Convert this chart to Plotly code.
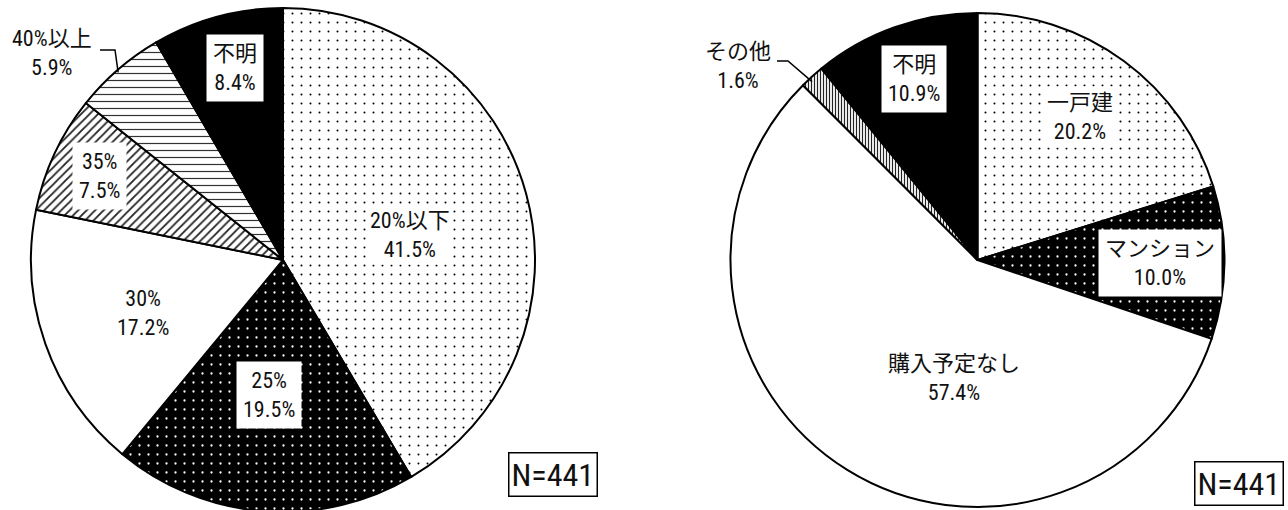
import math
import plotly.graph_objects as go

# ---- data -------------------------------------------------------------
ratio_labels = ["20%以下", "25%", "30%", "35%", "40%以上", "不明"]
ratio_values = [41.5, 19.5, 17.2, 7.5, 5.9, 8.4]

plan_labels = ["一戸建", "マンション", "購入予定なし", "その他", "不明"]
plan_values = [20.2, 10.0, 57.4, 1.6, 10.9]

sample_sizes = [441, 441]

# ---- layout constants (pixels) -----------------------------------------
W, H = 1288, 520
FONT = "Roboto Condensed, Liberation Sans Narrow, Liberation Sans, Noto Sans CJK JP, sans-serif"
LABEL_SIZE = 22

PIE1 = dict(cx=283, cy=263, r=252)
PIE2 = dict(cx=977.5, cy=265, r=247)


def px(x, y):
    """pixel position -> paper coordinates"""
    return x / W, 1 - y / H


def domain(p):
    x0, y1 = px(p["cx"] - p["r"], p["cy"] + p["r"])
    x1, y0 = px(p["cx"] + p["r"], p["cy"] - p["r"])
    return dict(x=[x0, x1], y=[y0, y1])


def mid_point(values, idx, p, frac=1.0):
    """point on the slice's bisector, frac of the radius from the centre"""
    total = sum(values)
    start = sum(values[:idx]) / total
    ang = 2 * math.pi * (start + values[idx] / total / 2)
    return (p["cx"] + frac * p["r"] * math.sin(ang),
            p["cy"] - frac * p["r"] * math.cos(ang))


def pie_trace(labels, values, p, shapes, bgs, fgs, sizes, solid):
    return go.Pie(
        labels=labels, values=values, sort=False, direction="clockwise",
        rotation=0, textinfo="none", hoverinfo="label+percent",
        showlegend=False, domain=domain(p),
        marker=dict(
            colors=bgs,
            line=dict(color="black", width=2),
            pattern=dict(shape=shapes, bgcolor=bgs, fgcolor=fgs,
                         size=sizes, solidity=solid, fillmode="replace"),
        ),
    )


fig = go.Figure()
fig.add_trace(pie_trace(
    ratio_labels, ratio_values, PIE1,
    shapes=[".", ".", "", "/", "-", ""],
    bgs=["white", "black", "white", "white", "white", "black"],
    fgs=["black", "white", "black", "#222", "#333", "black"],
    sizes=[9, 9, 8, 6, 7, 8],
    solid=[0.04, 0.05, 0.2, 0.3, 0.17, 0.2],
))
fig.add_trace(pie_trace(
    plan_labels, plan_values, PIE2,
    shapes=[".", ".", "", "|", ""],
    bgs=["white", "black", "white", "white", "black"],
    fgs=["black", "white", "black", "#222", "black"],
    sizes=[9, 9, 8, 3, 8],
    solid=[0.04, 0.05, 0.2, 0.4, 0.2],
))

# label centres (pixels) and the padding of their white box (None = no box)
ratio_label_pos = [(410, 235, 2), (269, 395, 6), (143, 313, None),
                   (99, 176, 6), (52, 53, None), (235, 68, 6)]
plan_label_pos = [(1080, 117, 3), (1160, 263, 6), (954, 378, None),
                  (738, 66, None), (913.5, 79, 6)]

annotations = []


def add_labels(labels, values, positions):
    for lab, val, (x, y, pad) in zip(labels, values, positions):
        ax, ay = px(x, y)
        annotations.append(dict(
            x=ax, y=ay, xref="paper", yref="paper", showarrow=False,
            text=f"{lab}<br>{val:.1f}%", align="center",
            font=dict(family=FONT, size=LABEL_SIZE, color="#111"),
            bgcolor="rgba(0,0,0,0)" if pad is None else "white",
            borderpad=0 if pad is None else pad,
            xanchor="center", yanchor="middle",
        ))


add_labels(ratio_labels, ratio_values, ratio_label_pos)
add_labels(plan_labels, plan_values, plan_label_pos)

# sample-size boxes
for n, (x, y) in zip(sample_sizes, [(553, 474), (1239, 483)]):
    ax, ay = px(x, y)
    annotations.append(dict(
        x=ax, y=ay, xref="paper", yref="paper", showarrow=False,
        text=f"N={n}", font=dict(family=FONT, size=32, color="#111"),
        bgcolor="white", bordercolor="black", borderwidth=1.5, borderpad=2,
        xanchor="center", yanchor="middle",
    ))

# leader lines for the small outside-labelled slices
shapes = []


def leader(values, idx, p, start, elbow):
    ex, ey = mid_point(values, idx, p)
    pts = [px(*start), px(*elbow), px(ex, ey)]
    path = "M " + " L ".join(f"{a:.5f},{b:.5f}" for a, b in pts)
    shapes.append(dict(type="path", path=path, xref="paper", yref="paper",
                       line=dict(color="black", width=1.5)))


leader(ratio_values, 4, PIE1, (100, 50), (115, 50))
leader(plan_values, 3, PIE2, (777, 61), (788, 61))

fig.update_layout(
    width=W, height=H, margin=dict(l=0, r=0, t=0, b=0),
    paper_bgcolor="white", plot_bgcolor="white",
    annotations=annotations, shapes=shapes,
)

fig.write_html(
    "out.html",
    post_script="document.documentElement.style.overflow='hidden';"
                "document.body.style.overflow='hidden';",
)
